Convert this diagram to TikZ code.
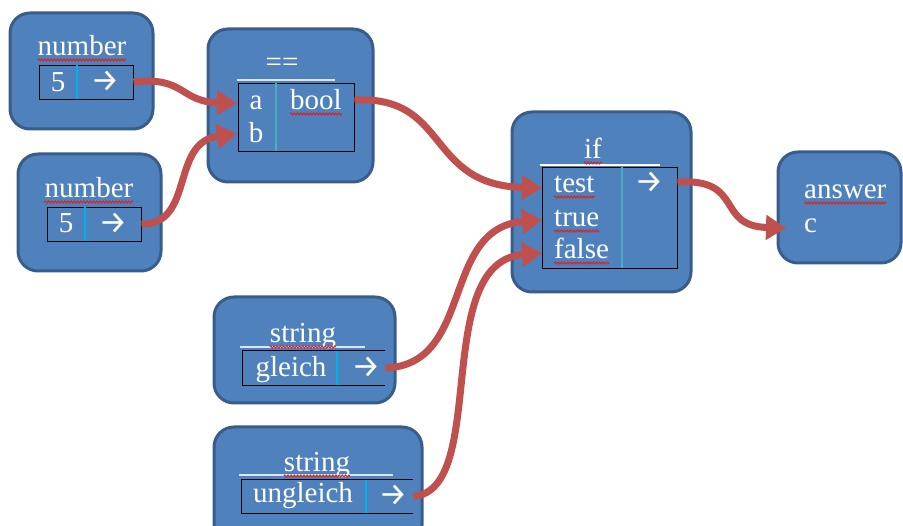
\documentclass[tikz,border=0pt]{standalone}
\usepackage{fontspec}
\setmainfont{Liberation Serif}
\newfontfamily\symfont{Fira Sans}
\usetikzlibrary{arrows.meta,decorations.pathmorphing}

\definecolor{blockfill}{HTML}{4F81BD}
\definecolor{blockedge}{HTML}{385D8A}
\definecolor{flowred}{HTML}{C0504D}
\definecolor{cyanbar}{HTML}{00B0F0}
\definecolor{tealbar}{HTML}{4BACC6}
\definecolor{rule}{HTML}{DCE6F2}
\definecolor{spellred}{HTML}{E0201C}

\tikzset{
  block/.style={draw=blockedge, fill=blockfill, line width=3pt,
    rounded corners=20pt, inner sep=0pt},
  field/.style={draw=black, line width=0.9pt, inner sep=0pt},
  openfield/.style={inner sep=0pt},
  lbl/.style={text=white, inner sep=0pt, font=\fontsize{29}{32}\selectfont},
  glyph/.style={text=white, inner sep=0pt, font=\symfont\fontsize{32}{34}\selectfont},
  cellbar/.style={line width=2.8pt},
  headrule/.style={draw=rule, line width=1.6pt},
  spell/.style={draw=spellred, line width=1pt,
    decorate, decoration={snake, amplitude=1pt, segment length=3.2pt}},
  flow/.style={draw=flowred, line width=7pt,
    -{Triangle[length=20pt,width=24pt]}},
}

\begin{document}
\begin{tikzpicture}[x=1pt,y=-1pt]
\clip (0,0) rectangle (903,526);
\fill[white] (0,0) rectangle (903,526);

% ---- outer blocks ----
\node[block, minimum width=143pt, minimum height=116pt] (num1) at (81.5,71) {};
\node[block, minimum width=143pt, minimum height=117pt] (num2) at (89.5,212.5) {};
\node[block, minimum width=165pt, minimum height=153pt] (eq) at (290.5,105.5) {};
\node[block, minimum width=179pt, minimum height=180pt] (iff) at (601.5,202) {};
\node[block, minimum width=123pt, minimum height=111pt] (ans) at (839.5,207.5) {};
\node[block, minimum width=181pt, minimum height=106pt] (str1) at (304.5,350) {};
\node[block, minimum width=208pt, minimum height=118pt] (str2) at (318,486) {};

% ---- inner fields ----
\node[field, minimum width=94pt, minimum height=34pt] (n1f) at (86,82) {};
\node[field, minimum width=94pt, minimum height=34pt] (n2f) at (94,224) {};
\node[field, minimum width=116pt, minimum height=68pt] (eqf) at (296,117) {};
\node[field, minimum width=135pt, minimum height=101pt] (iff f) at (609.5,217.5) {};
\node[openfield, minimum width=142pt, minimum height=34pt] (s1f) at (314,368) {};
\node[openfield, minimum width=171pt, minimum height=33pt] (s2f) at (327.5,496.5) {};
\draw[line width=0.9pt] (s1f.north east) -- (s1f.north west) -- (s1f.south west) -- (s1f.south east);
\draw[line width=0.9pt] (s2f.north east) -- (s2f.north west) -- (s2f.south west) -- (s2f.south east);

% cell dividers
\draw[cellbar, cyanbar] (77,65) -- (77,99);
\draw[cellbar, cyanbar] (85,207) -- (85,241);
\draw[cellbar, tealbar] (276,83) -- (276,151);
\draw[cellbar, tealbar] (622,167) -- (622,268);
\draw[cellbar, cyanbar] (337,351) -- (337,385);
\draw[cellbar, cyanbar] (366,480) -- (366,513);

% header rules
\draw[headrule] (237,80) -- (335,80);
\draw[draw=white, line width=1.6pt] (540,165) -- (660,165);
\draw[headrule] (240,347) -- (365,347);
\draw[headrule] (239,475) -- (393,475);

% ---- texts ----
\node[lbl, anchor=base] (t1) at (82,56) {number};
\node[lbl, anchor=base] (v1) at (58,92) {5};
\node[glyph] (o1) at (105,81) {→};

\node[lbl, anchor=base] (t2) at (89,198) {number};
\node[lbl, anchor=base] (v2) at (66,233) {5};
\node[glyph] (o2) at (113,223) {→};

\node[lbl, anchor=base] (teq) at (282,72) {==};
\node[lbl, anchor=base] (pa) at (256,110) {a};
\node[lbl, anchor=base] (pb) at (256,143) {b};
\node[lbl, anchor=base] (tbool) at (316,110) {bool};

\node[lbl, anchor=base] (tif) at (593,159) {if};
\node[lbl, anchor=base west] (ptest) at (554,193) {test};
\node[lbl, anchor=base west] (ptrue) at (554,227) {true};
\node[lbl, anchor=base west] (pfalse) at (554,259) {false};
\node[glyph] (oif) at (649,182) {→};

\node[lbl, anchor=base west] (tans) at (804,199) {answer};
\node[lbl, anchor=base west] (vc) at (804,233) {c};

\node[lbl, anchor=base] (ts1) at (303,343) {string};
\node[lbl, anchor=base] (vs1) at (291,377) {gleich};
\node[glyph] (os1) at (366,367) {→};

\node[lbl, anchor=base] (ts2) at (317,472) {string};
\node[lbl, anchor=base] (vs2) at (303,503) {ungleich};
\node[glyph] (os2) at (393,495) {→};

% spelling marks
\foreach \w in {t1,t2,tbool,tif,ptest,ptrue,pfalse,tans,ts1,ts2}
  \draw[spell] ([yshift=-4pt]\w.base west) -- ([yshift=-4pt]\w.base east);

% ---- ports ----
\coordinate (inA) at (237,103);
\coordinate (inB) at (237,134);
\coordinate (inTest) at (542,188);
\coordinate (inTrue) at (542,220);
\coordinate (inFalse) at (542,253);
\coordinate (inAns) at (786,228);

% ---- connectors ----
\draw[flow] (n1f.east) .. controls (185,76) and (180,102) .. (inA);
\draw[flow] (n2f.east) .. controls (195,225) and (170,142) .. (inB);
\draw[flow] (eqf.east |- tbool.center) .. controls (450,95) and (425,185) .. (inTest);
\draw[flow] (iff f.east |- oif.center) .. controls (745,178) and (715,226) .. (inAns);
\draw[flow] (s1f.east) .. controls (475,365) and (440,228) .. (inTrue);
\draw[flow] (s2f.east) .. controls (490,490) and (430,262) .. (inFalse);
\end{tikzpicture}
\end{document}
